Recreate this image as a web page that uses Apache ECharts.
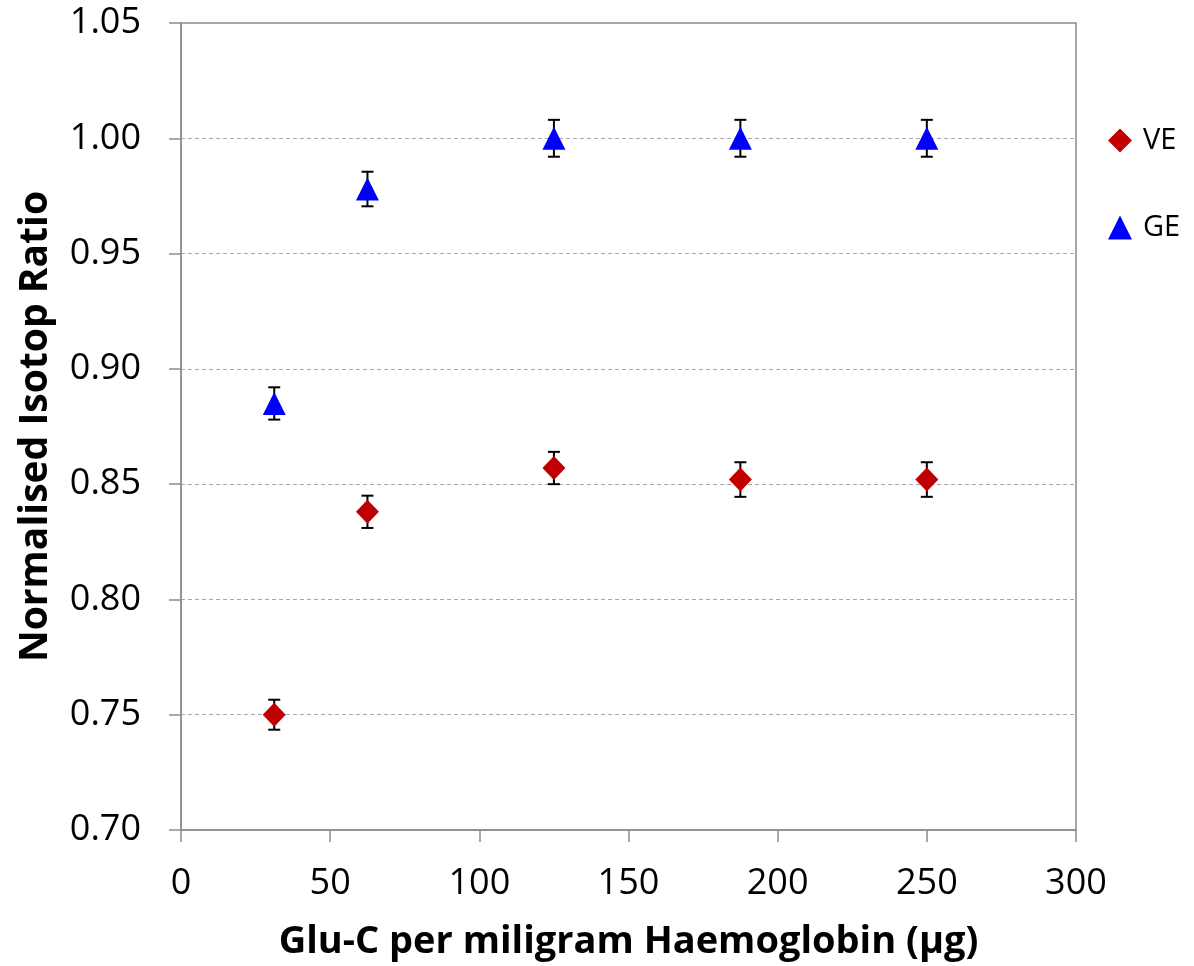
<!DOCTYPE html>
<html>
<head>
<meta charset="utf-8">
<script src="https://cdn.jsdelivr.net/npm/echarts@6/dist/echarts.min.js"></script>
<style>
  html, body { margin: 0; padding: 0; background: #fff; }
  #chart { width: 1194px; height: 966px; }
</style>
</head>
<body>
<div id="chart"></div>
<script>
var xValues = [31.25, 62.5, 125, 187.5, 250];
var veValues = [0.750, 0.838, 0.857, 0.852, 0.852];
var veErrors = [0.0065, 0.0070, 0.0070, 0.0075, 0.0075];
var geValues = [0.885, 0.978, 1.000, 1.000, 1.000];
var geErrors = [0.0070, 0.0075, 0.0080, 0.0080, 0.0080];
var yTicks = ['0.70', '0.75', '0.80', '0.85', '0.90', '0.95', '1.00', '1.05'];

var chart = echarts.init(document.getElementById('chart'));
var font = '"Open Sans", "Liberation Sans", sans-serif';

function pairs(vals) {
  var out = [];
  for (var i = 0; i < xValues.length; i++) out.push([xValues[i], vals[i]]);
  return out;
}

function errData(vals, errs) {
  var out = [];
  for (var i = 0; i < xValues.length; i++) {
    out.push([xValues[i], vals[i] - errs[i], vals[i] + errs[i]]);
  }
  return out;
}

// whisker + caps
function renderErr(params, api) {
  var x = api.value(0);
  var lo = api.coord([x, api.value(1)]);
  var hi = api.coord([x, api.value(2)]);
  var w = 6;
  var st = { stroke: '#000', lineWidth: 2 };
  return {
    type: 'group',
    children: [
      { type: 'line', shape: { x1: lo[0], y1: lo[1], x2: hi[0], y2: hi[1] }, style: st },
      { type: 'line', shape: { x1: lo[0] - w, y1: lo[1], x2: lo[0] + w, y2: lo[1] }, style: st },
      { type: 'line', shape: { x1: hi[0] - w, y1: hi[1], x2: hi[0] + w, y2: hi[1] }, style: st }
    ]
  };
}

var option = {
  backgroundColor: '#fff',
  animation: false,
  grid: { left: 181, right: 118, top: 23, bottom: 133, show: true, borderColor: '#8c8c8c', borderWidth: 1.5 },
  legend: {
    left: 1103,
    top: 121,
    orient: 'vertical',
    itemGap: 58,
    itemWidth: 24,
    itemHeight: 24,
    textStyle: { fontFamily: font, fontSize: 29, color: '#000', padding: [0, 0, 0, 6] },
    data: ['VE', 'GE']
  },
  xAxis: {
    type: 'value',
    min: 0,
    max: 300,
    interval: 50,
    name: 'Glu-C per miligram Haemoglobin (\u03bcg)',
    nameLocation: 'middle',
    nameGap: 93,
    nameTextStyle: { fontFamily: font, fontSize: 38, fontWeight: 'bold', color: '#000' },
    axisLine: { lineStyle: { color: '#8c8c8c', width: 1.5 } },
    axisTick: { show: true, length: 12, lineStyle: { color: '#8c8c8c', width: 1.5 } },
    axisLabel: { fontFamily: font, fontSize: 36, color: '#000', margin: 36 },
    splitLine: { show: false }
  },
  yAxis: {
    type: 'value',
    min: 0.70,
    max: 1.05,
    interval: 0.05,
    name: 'Normalised Isotop Ratio',
    nameLocation: 'middle',
    nameGap: 126,
    nameTextStyle: { fontFamily: font, fontSize: 39, fontWeight: 'bold', color: '#000' },
    axisLine: { show: true, lineStyle: { color: '#8c8c8c', width: 1.5 } },
    axisTick: { show: true, length: 12, lineStyle: { color: '#8c8c8c', width: 1.5 } },
    axisLabel: {
      fontFamily: font, fontSize: 36, color: '#000', margin: 40,
      formatter: function (v) { return yTicks[Math.round((v - 0.70) / 0.05)]; }
    },
    splitLine: { show: true, lineStyle: { color: '#a6a6a6', type: [4, 3], width: 1 } }
  },
  series: [
    {
      name: 'VEerr',
      type: 'custom',
      renderItem: renderErr,
      data: errData(veValues, veErrors),
      z: 2
    },
    {
      name: 'GEerr',
      type: 'custom',
      renderItem: renderErr,
      data: errData(geValues, geErrors),
      z: 2
    },
    {
      name: 'VE',
      type: 'scatter',
      symbol: 'diamond',
      symbolSize: [23, 24],
      itemStyle: { color: '#C00000', opacity: 1 },
      data: pairs(veValues),
      z: 3
    },
    {
      name: 'GE',
      type: 'scatter',
      symbol: 'triangle',
      symbolSize: [23, 23],
      itemStyle: { color: '#0000FF', opacity: 1 },
      data: pairs(geValues),
      z: 3
    }
  ]
};

chart.setOption(option);
</script>
</body>
</html>
